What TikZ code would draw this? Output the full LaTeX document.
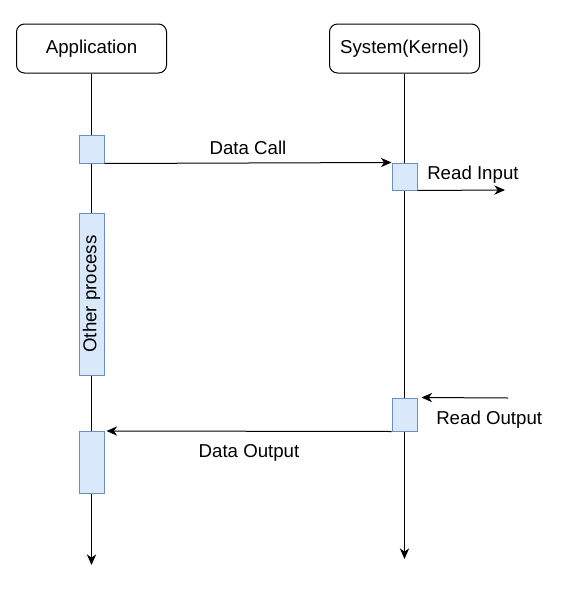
\documentclass[tikz,border=0pt]{standalone}
\usepackage{fontspec}
\setmainfont{Liberation Sans}
\usepackage{xcolor}
\usetikzlibrary{arrows.meta,positioning,calc}
\definecolor{actfill}{HTML}{DAE8FC}
\definecolor{actline}{HTML}{6C8EBF}
\tikzset{
  head/.style={draw, rounded corners=6pt, align=center, font=\fontsize{14}{17}\selectfont,
               minimum width=112.5pt, minimum height=36.75pt, inner sep=0pt, line width=0.75pt},
  act/.style={draw=actline, fill=actfill, minimum width=18.75pt, inner sep=0pt, line width=0.75pt},
  lbl/.style={font=\fontsize{14}{17}\selectfont, inner sep=0pt},
  link/.style={-{Stealth[length=8pt, width=7pt, inset=2.5pt]}, line width=0.75pt},
  life/.style={-{Stealth[length=8pt, width=7pt, inset=2.5pt]}, line width=0.75pt}
}
\begin{document}
\begin{tikzpicture}[x=0.75pt,y=-0.75pt]
  \useasboundingbox (0,0) rectangle (562,589);
  % lifeline heads
  \node[head] (app) at (91.5,48.5) {Application};
  \node[head] (kern) at (404.5,48.5) {System(Kernel)};
  \coordinate (append) at (91.5,565);
  \coordinate (kernend) at (404.5,559);
  \draw[life] (app) -- (append);
  \draw[life] (kern) -- (kernend);

  % activations
  \node[act, minimum height=21pt] (call) at (91.5,149) {};
  \node[act, minimum height=20.25pt] (rin) at (404.5,176.5) {};
  \node[act, minimum height=121.5pt] (other) at (91.5,294)
    {\rotatebox{90}{\fontsize{14}{17}\selectfont Other process}};
  \node[act, minimum height=24.75pt] (rout) at (404.5,414.5) {};
  \node[act, minimum height=46.5pt] (dout) at (91.5,462.5) {};

  % messages
  \draw[link] (call.south east) -- (rin.north west)
    node[lbl, midway, above=5.5pt] (lcall) {Data Call};
  \coordinate (inend) at (505,190);
  \draw[link] (rin.south east) -- (inend);
  \node[lbl, anchor=west] (lin) at (427,175) {Read Input};
  \coordinate (outstart) at (508,398);
  \draw[link] (outstart) -- ([xshift=3pt]rout.north east);
  \node[lbl, anchor=west] (lout) at (436,420) {Read Output};
  \draw[link] (rout.south west) -- ([xshift=1.5pt]dout.north east)
    node[lbl, midway, below=9.5pt] (ldout) {Data Output};
\end{tikzpicture}
\end{document}
